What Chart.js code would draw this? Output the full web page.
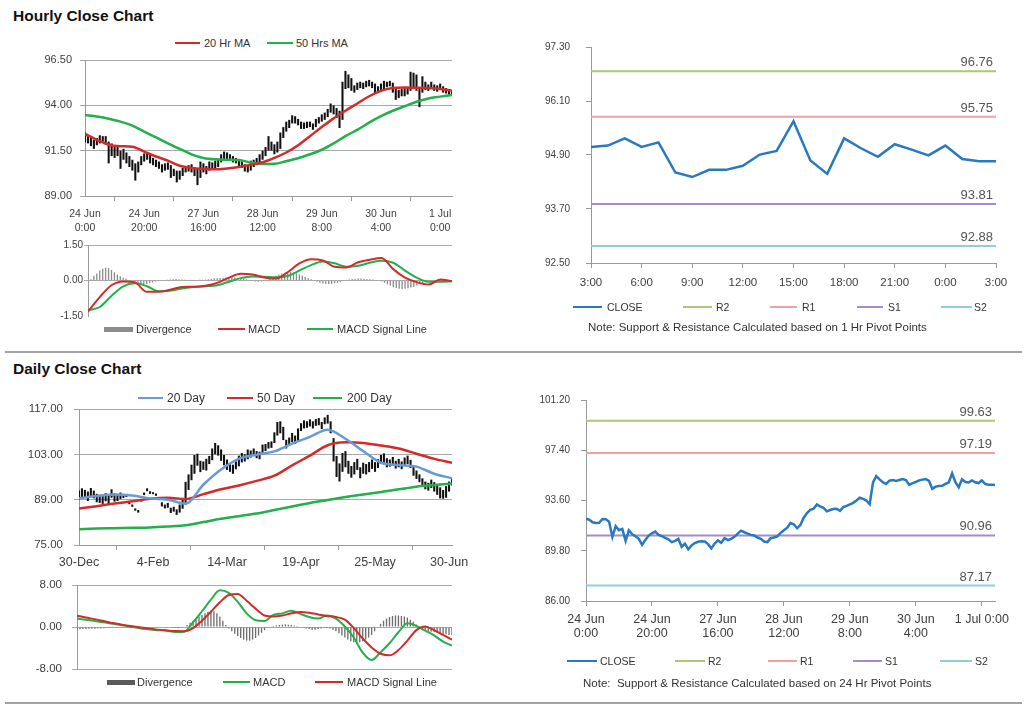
<!DOCTYPE html>
<html>
<head>
<meta charset="utf-8">
<script src="https://cdn.jsdelivr.net/npm/chart.js@4.4.0/dist/chart.umd.min.js"></script>
<style>
  body { margin: 0; background: #fff; font-family: "Liberation Sans", Arial, sans-serif; }
  #page { position: relative; width: 1024px; height: 706px; overflow: hidden; background: #fff; }
  canvas { position: absolute; }
  .title { position: absolute; left: 13px; font-weight: bold; font-size: 15.5px; color: #111; line-height: 18px; }
  .rule { position: absolute; left: 5px; width: 1017px; height: 2px; background: #a3a3a3; }
  .lg { position: absolute; height: 14px; line-height: 14px; color: #333; white-space: nowrap; }
  .lg i { position: absolute; left: 0; top: 6px; height: 2px; display: block; }
  .lg i.bar { top: 5px; height: 5px; }
  .lg span { position: absolute; top: 0; }
  .note { position: absolute; font-size: 11.5px; color: #333; white-space: pre; line-height: 14px; }
</style>
</head>
<body>
<div id="page">
  <div class="title" style="top:7px">Hourly Close Chart</div>
  <div class="title" style="top:360px">Daily Close Chart</div>
  <div class="rule" style="top:351px"></div>
  <div class="rule" style="top:702px"></div>

  <canvas id="hourPrice" width="440" height="186" style="left:20px;top:52px"></canvas>
  <canvas id="hourMacdChart" width="440" height="88" style="left:20px;top:237px"></canvas>
  <canvas id="hourPivot" width="490" height="256" style="left:520px;top:38px"></canvas>
  <canvas id="dayPrice" width="458" height="176" style="left:14px;top:399px"></canvas>
  <canvas id="dayMacdChart" width="446" height="102" style="left:14px;top:576px"></canvas>
  <canvas id="dayPivot" width="495" height="256" style="left:515px;top:391px"></canvas>

  <!-- legends -->
  <div class="lg" style="left:175px;top:36px;font-size:11px"><i style="width:25px;background:#d42a2a"></i><span style="left:29px">20 Hr MA</span></div>
  <div class="lg" style="left:267px;top:36px;font-size:11px"><i style="width:26px;background:#22b04a"></i><span style="left:29px">50 Hrs MA</span></div>

  <div class="lg" style="left:104px;top:322px;font-size:11px"><i class="bar" style="width:29px;background:#8c8c8c"></i><span style="left:32px">Divergence</span></div>
  <div class="lg" style="left:218px;top:322px;font-size:11px"><i style="width:27px;background:#d42a2a"></i><span style="left:30px">MACD</span></div>
  <div class="lg" style="left:307px;top:322px;font-size:11px"><i style="width:26px;background:#22b04a"></i><span style="left:30px">MACD Signal Line</span></div>

  <div class="lg" style="left:573px;top:300px;font-size:10.5px"><i style="width:29px;background:#2879c0"></i><span style="left:34px">CLOSE</span></div>
  <div class="lg" style="left:683px;top:300px;font-size:10.5px"><i style="width:29px;background:#a9c978"></i><span style="left:33px">R2</span></div>
  <div class="lg" style="left:770px;top:300px;font-size:10.5px"><i style="width:27px;background:#eba3a3"></i><span style="left:32px">R1</span></div>
  <div class="lg" style="left:857px;top:300px;font-size:10.5px"><i style="width:26px;background:#a48cc6"></i><span style="left:31px">S1</span></div>
  <div class="lg" style="left:941px;top:300px;font-size:10.5px"><i style="width:31px;background:#92cddc"></i><span style="left:33px">S2</span></div>
  <div class="note" style="left:588px;top:320px">Note: Support &amp; Resistance Calculated based on 1 Hr Pivot Points</div>

  <div class="lg" style="left:138px;top:391px;font-size:12px"><i style="width:25px;background:#6a9ad6"></i><span style="left:29px">20 Day</span></div>
  <div class="lg" style="left:227px;top:391px;font-size:12px"><i style="width:26px;background:#d42a2a"></i><span style="left:30px">50 Day</span></div>
  <div class="lg" style="left:313px;top:391px;font-size:12px"><i style="width:29px;background:#22b04a"></i><span style="left:34px">200 Day</span></div>

  <div class="lg" style="left:107px;top:675px;font-size:11px"><i class="bar" style="width:28px;background:#5a5a5a"></i><span style="left:30px">Divergence</span></div>
  <div class="lg" style="left:223px;top:675px;font-size:11px"><i style="width:27px;background:#22b04a"></i><span style="left:30px">MACD</span></div>
  <div class="lg" style="left:315px;top:675px;font-size:11px"><i style="width:28px;background:#d42a2a"></i><span style="left:32px">MACD Signal Line</span></div>

  <div class="lg" style="left:567px;top:654px;font-size:10.5px"><i style="width:30px;background:#2879c0"></i><span style="left:33px">CLOSE</span></div>
  <div class="lg" style="left:675px;top:654px;font-size:10.5px"><i style="width:30px;background:#a9c978"></i><span style="left:33px">R2</span></div>
  <div class="lg" style="left:768px;top:654px;font-size:10.5px"><i style="width:29px;background:#eba3a3"></i><span style="left:32px">R1</span></div>
  <div class="lg" style="left:853px;top:654px;font-size:10.5px"><i style="width:29px;background:#a48cc6"></i><span style="left:32px">S1</span></div>
  <div class="lg" style="left:940px;top:654px;font-size:10.5px"><i style="width:32px;background:#92cddc"></i><span style="left:35px">S2</span></div>
  <div class="note" style="left:583px;top:676px">Note:  Support &amp; Resistance Calculated based on 24 Hr Pivot Points</div>
</div>

<script>
// ---------- hourly bars, 24 Jun 0:00 .. 1 Jul 0:00 ----------
const hourTickIdx = [0, 20, 40, 60, 80, 100, 120];
const hourTickLabels = [['24 Jun', '0:00'], ['24 Jun', '20:00'], ['27 Jun', '16:00'], ['28 Jun', '12:00'],
                        ['29 Jun', '8:00'], ['30 Jun', '4:00'], ['1 Jul', '0:00']];
const hourTickLabelsB = [['24 Jun', '0:00'], ['24 Jun', '20:00'], ['27 Jun', '16:00'], ['28 Jun', '12:00'],
                         ['29 Jun', '8:00'], ['30 Jun', '4:00'], '1 Jul 0:00'];

const hourHigh = [92.5,92.35,92.2,92.1,92.2,92.35,92.3,92.3,92.0,91.9,
  91.7,91.75,91.5,91.6,91.4,91.2,91.0,90.8,90.9,91.2,
  91.35,91.4,91.3,91.1,91.0,90.9,90.75,90.8,90.85,90.7,
  90.5,90.4,90.4,90.55,90.65,90.7,90.75,90.6,90.5,90.9,
  90.8,90.65,90.9,90.85,90.95,91.05,91.3,91.45,91.4,91.3,
  91.2,91.1,91.0,90.9,90.75,90.7,90.95,91.0,91.1,91.3,
  91.5,91.7,92.3,92.0,91.85,92.0,92.5,92.8,93.1,93.2,
  93.45,93.4,93.25,93.1,93.05,93.1,93.1,93.0,93.25,93.35,
  93.5,93.6,93.8,94.1,94.0,93.85,93.7,95.3,95.9,95.7,
  95.5,95.1,95.25,95.3,95.25,95.35,95.4,95.3,95.2,95.05,
  95.2,95.35,95.3,95.35,95.25,95.0,94.85,94.9,94.95,95.0,
  95.85,95.8,95.7,95.0,95.6,95.3,95.15,95.3,95.15,95.1,
  95.2,95.05,94.95,94.9,94.85];
const hourLow = [91.95,91.9,91.75,91.6,91.8,91.9,92.0,91.85,90.8,91.2,
  91.1,91.2,90.5,91.0,90.8,90.6,90.4,89.85,90.3,90.7,
  90.9,91.0,90.8,90.7,90.6,90.5,90.3,90.4,90.45,90.0,
  90.1,89.75,89.9,90.1,90.3,90.35,90.3,90.1,89.6,90.0,
  90.3,90.2,90.4,90.45,90.5,90.6,90.85,91.0,91.0,90.95,
  90.85,90.8,90.65,90.55,90.35,90.3,90.4,90.6,90.7,90.8,
  91.0,91.2,91.5,91.5,91.3,91.4,91.6,92.2,92.55,92.75,
  93.0,93.0,92.9,92.7,92.7,92.75,92.8,92.65,92.8,93.0,
  93.1,93.2,93.35,93.6,93.5,93.3,92.75,93.2,94.9,94.95,
  94.8,94.7,94.85,94.95,94.9,95.0,95.05,94.95,94.65,94.7,
  94.85,94.9,95.0,95.05,94.7,94.3,94.4,94.5,94.5,94.6,
  94.8,95.0,94.8,93.9,94.7,94.85,94.8,94.9,94.8,94.75,
  94.85,94.7,94.65,94.6,94.6];
const hourClose = [92.22,92.15,91.95,91.9,91.92,92.2,92.18,92.0,90.85,91.66,
  91.35,91.45,90.55,91.35,91.05,90.9,90.7,90.25,90.62,90.95,
  91.12,91.25,91.0,90.9,90.78,90.66,90.45,90.55,90.7,90.1,
  90.33,89.9,90.2,90.38,90.48,90.52,90.5,90.3,89.98,90.35,
  90.58,90.4,90.75,90.6,90.7,90.85,91.1,91.32,91.2,91.1,
  91.0,90.95,90.8,90.7,90.5,90.45,90.75,90.8,90.88,91.15,
  91.35,91.55,91.9,91.8,91.5,91.75,92.3,92.65,92.9,92.98,
  93.3,93.15,93.05,92.78,92.88,92.95,92.98,92.82,93.1,93.2,
  93.3,93.42,93.6,93.82,93.72,93.6,93.32,94.95,95.45,95.2,
  94.98,94.85,95.1,95.15,95.08,95.15,95.22,95.14,94.78,94.92,
  95.0,95.12,95.18,95.22,95.08,94.48,94.65,94.7,94.72,94.85,
  94.98,95.65,94.98,94.6,95.2,95.0,94.96,95.12,94.98,94.92,
  95.12,94.85,94.8,94.8,94.78];

// moving averages and MACD read every 4th hour
const hourStep = 4;
const hourMa20 = [92.42,92.1,91.83,91.75,91.72,91.45,91.18,90.95,90.67,90.55,90.5,90.47,90.52,90.6,90.72,90.86,
  91.1,91.4,91.8,92.3,92.8,93.28,93.7,94.1,94.5,94.8,94.95,94.98,94.97,94.95,94.9,94.81];
const hourMa50 = [93.47,93.38,93.26,93.1,92.88,92.55,92.23,91.9,91.6,91.3,91.1,91.02,91.0,90.98,90.85,90.77,
  90.78,90.92,91.08,91.3,91.55,91.9,92.3,92.65,93.05,93.4,93.7,93.95,94.2,94.38,94.48,94.57];
const hourMacd = [-1.31,-0.7,-0.2,-0.04,-0.08,-0.48,-0.48,-0.39,-0.27,-0.26,-0.22,-0.1,0.12,0.28,0.25,0.13,
  0.08,0.35,0.72,0.9,0.85,0.58,0.55,0.77,0.88,0.95,0.48,0.12,-0.07,-0.17,0.04,-0.03];
const hourSignal = [-1.26,-1.12,-0.65,-0.25,-0.12,-0.24,-0.45,-0.43,-0.34,-0.28,-0.24,-0.2,-0.05,0.1,0.17,0.16,
  0.14,0.19,0.42,0.65,0.8,0.73,0.58,0.62,0.75,0.83,0.75,0.42,0.12,-0.05,-0.05,-0.03];
const hourDiv = [0,0.05,0.2,0.3,0.42,0.5,0.54,0.52,0.45,0.35,
  0.25,0.18,0.12,0.08,0.02,-0.03,-0.06,-0.1,-0.14,-0.15,
  -0.15,-0.12,-0.08,-0.05,-0.03,-0.02,0.02,0.03,0.04,0.05,
  0.06,0.05,0.04,0.03,0.02,0.01,0.01,0.02,0.03,0.03,
  0.04,0.05,0.07,0.09,0.1,0.11,0.12,0.13,0.14,0.14,
  0.13,0.12,0.1,0.08,0.05,0.02,-0.02,-0.04,-0.05,-0.04,
  -0.02,0.02,0.08,0.14,0.2,0.25,0.3,0.33,0.35,0.36,
  0.34,0.3,0.25,0.2,0.15,0.1,0.05,0.0,-0.05,-0.1,
  -0.13,-0.15,-0.15,-0.14,-0.12,-0.1,-0.06,-0.03,0.02,0.04,
  0.06,0.07,0.08,0.08,0.07,0.06,0.05,0.04,0.02,0.0,
  -0.04,-0.1,-0.16,-0.22,-0.28,-0.32,-0.35,-0.36,-0.35,-0.33,
  -0.3,-0.26,-0.21,-0.16,-0.12,-0.08,-0.05,-0.02,0.0,0.02,
  0.03,0.04,0.03,0.02,0.0];
const hourPriceTicks = [89, 91.5, 94, 96.5];
const hourMacdTicks = [-1.5, 0, 1.5];

// ---------- last 24 hours with 1 hr pivots ----------
const pivotHourTickIdx = [0, 3, 6, 9, 12, 15, 18, 21, 24];
const pivotHourLabels = ['3:00', '6:00', '9:00', '12:00', '15:00', '18:00', '21:00', '0:00', '3:00'];
const pivotHourClose = [95.08,95.11,95.27,95.08,95.18,94.51,94.41,94.57,94.57,94.66,94.91,94.99,95.65,
  94.78,94.48,95.27,95.05,94.86,95.14,95.02,94.89,95.11,94.81,94.76,94.76];
const pivotHourLevels = [96.76, 95.75, 93.81, 92.88];   // R2, R1, S1, S2
const pivotHourTicks = [92.5, 93.7, 94.9, 96.1, 97.3];

// ---------- daily bars, 30-Dec .. 30-Jun ----------
const dayTickIdx = [0, 25, 50, 75, 100, 125];
const dayTickLabels = ['30-Dec', '4-Feb', '14-Mar', '19-Apr', '25-May', '30-Jun'];
const dayHigh = [91.8,92.5,92.0,91.5,92.6,91.8,90.8,90.5,90.3,91.0,
  90.2,92.2,91.0,90.6,91.2,90.7,90.4,88.3,87.5,86.3,
  85.8,89.0,91.2,92.5,91.6,91.3,90.9,89.8,88.2,87.5,
  88.0,86.5,86.8,86.0,87.5,88.9,94.5,96.8,99.8,102.8,
  103.2,101.0,100.8,101.6,102.5,104.8,106.5,105.8,104.5,102.8,
  101.4,100.2,99.8,100.8,102.6,103.4,103.0,104.5,104.2,104.8,
  104.0,103.8,106.0,106.2,106.8,107.0,109.8,113.0,113.2,111.5,
  107.5,108.2,109.6,108.8,111.0,112.6,113.5,113.2,113.8,113.2,
  113.9,114.2,113.0,114.4,115.2,113.2,108.0,102.5,100.2,103.4,
  104.0,101.0,99.4,100.6,101.6,99.0,100.4,100.0,100.6,101.4,
  100.6,101.5,102.8,103.3,101.8,101.4,102.2,101.0,101.6,100.8,
  102.0,102.6,101.3,99.4,98.0,96.8,95.6,94.6,94.2,95.2,
  94.4,93.4,92.8,92.0,93.2,94.6,95.6];
const dayLow = [89.0,89.8,89.5,88.6,90.0,89.4,88.2,88.0,87.7,88.5,
  87.6,89.6,88.4,88.6,89.2,89.5,89.8,87.6,86.8,85.6,
  85.0,88.4,90.4,91.6,90.8,90.7,90.2,89.0,86.9,86.3,
  86.5,84.9,85.3,84.3,85.0,86.2,87.5,92.0,95.0,97.0,
  99.5,97.5,98.2,98.0,100.0,101.2,103.0,102.6,101.0,99.6,
  98.2,97.6,97.0,98.4,99.3,100.5,100.8,101.5,102.0,102.5,
  101.8,101.5,103.5,104.0,104.8,105.0,106.5,108.8,109.5,107.4,
  104.8,106.0,106.8,106.2,107.0,110.2,111.0,111.2,111.6,111.0,
  111.8,112.0,110.8,112.3,112.5,109.5,100.8,96.0,94.6,97.6,
  99.0,97.0,95.8,96.8,98.2,95.6,97.0,96.8,97.5,98.5,
  97.6,98.8,100.0,100.4,99.0,99.2,99.8,98.6,99.0,98.4,
  99.6,100.0,98.8,96.4,95.4,94.4,93.0,92.2,91.8,92.6,
  91.5,90.5,89.4,89.3,89.6,91.5,93.4];

// moving averages read every 6th day, MACD every 3rd day
const dayStep = 6;
const dayMa20 = [89.4,90.1,90.6,90.3,89.4,89.0,87.8,93.6,98.3,101.6,102.9,103.9,106.3,108.4,110.6,107.8,104.0,100.4,99.7,99.2,97.0,95.6];
const dayMa50 = [86.3,87.0,87.8,88.5,89.3,89.6,89.2,90.7,92.2,93.4,94.8,96.4,99.6,102.6,105.8,106.7,106.5,105.7,104.8,103.2,101.6,100.4];
const dayMa200 = [79.9,80.1,80.2,80.3,80.4,80.7,81.1,82.1,83.1,83.9,84.7,85.8,86.9,88.0,88.9,89.8,90.6,91.4,92.2,93.0,93.5,94.0];
const macdStep = 3;
const dayMacd = [1.6,1.4,1.15,0.9,0.6,0.35,0.05,-0.22,-0.42,-0.6,
  -0.68,-0.95,-0.9,0.9,3.0,5.2,7.0,6.5,4.8,2.6,
  1.3,1.15,2.3,2.6,3.1,2.5,1.9,1.6,2.2,1.6,
  0.1,-2.0,-4.9,-6.3,-4.8,-3.1,-1.0,0.7,0.2,-0.7,
  -1.6,-2.8,-3.55];
const daySignal = [2.16,1.8,1.5,1.15,0.75,0.45,0.18,-0.05,-0.3,-0.5,
  -0.65,-0.78,-0.8,-0.2,1.2,2.9,4.7,6.1,6.3,5.0,
  3.5,2.2,2.0,2.2,2.6,2.85,2.7,2.4,2.1,1.9,
  1.4,-0.2,-2.2,-3.9,-5.1,-5.4,-4.4,-2.6,-0.6,0.1,
  -0.6,-1.5,-2.4];
const dayDiv = [-0.5,-0.45,-0.4,-0.4,-0.35,-0.35,-0.35,-0.3,-0.3,-0.25,
  -0.2,-0.2,-0.15,-0.15,-0.1,-0.1,-0.1,-0.1,-0.15,-0.2,
  -0.2,-0.2,-0.15,-0.15,-0.12,-0.1,-0.1,-0.12,-0.1,-0.08,
  -0.05,-0.1,-0.15,-0.2,-0.25,-0.2,-0.1,0.4,0.8,1.2,
  1.6,2.0,2.3,2.6,2.9,3.1,3.0,2.6,2.0,1.2,
  0.4,-0.3,-0.8,-1.3,-1.7,-2.1,-2.4,-2.6,-2.6,-2.4,
  -2.1,-1.6,-1.1,-0.6,-0.2,0.1,0.2,0.3,0.4,0.45,
  0.5,0.45,0.4,0.3,0.2,0.1,-0.1,-0.3,-0.4,-0.5,
  -0.5,-0.4,-0.3,-0.2,-0.2,-0.3,-0.5,-0.8,-1.2,-1.6,
  -2.0,-2.4,-2.7,-2.9,-3.0,-2.9,-2.7,-2.4,-2.0,-1.5,
  -0.8,0.0,0.6,1.2,1.6,1.9,2.1,2.2,2.2,2.1,
  2.0,1.8,1.4,1.0,0.5,0.0,-0.4,-0.6,-0.8,-0.9,
  -1.0,-1.1,-1.2,-1.3,-1.4,-1.5,-1.5];
const dayPriceTicks = [75, 89, 103, 117];
const dayMacdTicks = [-8, 0, 8];

// ---------- 24 hr pivots over the hourly closes ----------
const pivotDayLevels = [99.63, 97.19, 90.96, 87.17];   // R2, R1, S1, S2
const pivotDayTicks = [86, 89.8, 93.6, 97.4, 101.2];

// ---------- styling ----------
const RED = '#d42a2a', GREEN = '#22b04a', BLUE = '#6a9ad6', CLOSE = '#2879c0';
const levelColors = ['#a9c978', '#eba3a3', '#a48cc6', '#92cddc'];
const AXIS = '#9a9a9a', GRID = '#a8a8a8';

Chart.defaults.font.family = "'Liberation Sans', Arial, sans-serif";
Chart.defaults.font.size = 11;
Chart.defaults.color = '#404040';
Chart.defaults.animation = false;
Chart.defaults.responsive = false;
Chart.defaults.plugins.legend.display = false;
Chart.defaults.plugins.tooltip.enabled = false;
Chart.defaults.elements.point.radius = 0;

function xy(vals, step) { return vals.map((v, i) => ({x: i * step, y: v})); }
function hiLo(lo, hi) { return lo.map((v, i) => ({x: i, y: [v, hi[i]]})); }
function flat(v, xMax) { return [{x: 0, y: v}, {x: xMax, y: v}]; }

// fixed axis sizes so the plot areas land where the reference has them
function xAxis(max, tickIdx, labels, o) {
  return {
    type: 'linear', min: 0, max: max, offset: false, display: o.display !== false,
    afterBuildTicks: s => { s.ticks = tickIdx.map(v => ({value: v})); },
    afterFit: s => { s.height = o.height || 0; s.paddingLeft = 0; s.paddingRight = 0; },
    ticks: {callback: (v, i) => labels ? labels[i] : '', autoSkip: false, maxRotation: 0,
            padding: o.pad || 0, font: {size: o.size || 11, lineHeight: o.lh || 1.2}},
    grid: {drawOnChartArea: false, tickLength: 5, color: AXIS},
    border: {color: AXIS}
  };
}

function yAxis(ticks, o) {
  return {
    min: ticks[0], max: ticks[ticks.length - 1],
    afterBuildTicks: s => { s.ticks = ticks.map(v => ({value: v})); },
    afterFit: s => { s.width = o.width; s.paddingTop = 0; s.paddingBottom = 0; },
    ticks: {callback: v => v.toFixed(2), padding: o.pad, font: {size: o.size}},
    grid: {drawOnChartArea: o.onArea !== false, color: o.color || GRID, tickLength: o.tl || 5},
    border: {color: AXIS}
  };
}

function line(data, color, width, order) {
  return {type: 'line', data: data, borderColor: color, borderWidth: width,
          cubicInterpolationMode: 'monotone', order: order};
}

// value labels above each pivot level
const levelText = {
  id: 'levelText',
  afterDatasetsDraw(chart) {
    const ctx = chart.ctx, area = chart.chartArea, y = chart.scales.y;
    ctx.save();
    ctx.font = "13px 'Liberation Sans', Arial, sans-serif";
    ctx.fillStyle = '#555';
    ctx.textAlign = 'right';
    ctx.textBaseline = 'alphabetic';
    chart.data.datasets.forEach(ds => {
      if (ds.level === undefined) return;
      ctx.fillText(ds.level.toFixed(2), area.right - 3, y.getPixelForValue(ds.level) - 5);
    });
    ctx.restore();
  }
};

// hourly price with MAs
new Chart(document.getElementById('hourPrice'), {
  type: 'bar',
  data: {datasets: [
    line(xy(hourMa20, hourStep), RED, 2.5, 1),
    line(xy(hourMa50, hourStep), GREEN, 2.5, 2),
    {type: 'bar', data: hiLo(hourLow, hourHigh), backgroundColor: '#111',
     barPercentage: 0.7, categoryPercentage: 1, order: 5}
  ]},
  options: {
    layout: {padding: {top: 8, right: 8, left: 0, bottom: 0}},
    scales: {
      x: xAxis(124, hourTickIdx, hourTickLabels, {height: 42, pad: 6, size: 10.5, lh: 1.33}),
      y: yAxis(hourPriceTicks, {width: 65, pad: 8, size: 11})
    }
  }
});

// hourly MACD
new Chart(document.getElementById('hourMacdChart'), {
  type: 'bar',
  data: {datasets: [
    line(xy(hourMacd, hourStep), RED, 2, 1),
    line(xy(hourSignal, hourStep), GREEN, 2, 2),
    {type: 'bar', data: xy(hourDiv, 1), backgroundColor: '#8c8c8c',
     barPercentage: 0.45, categoryPercentage: 1, order: 5}
  ]},
  options: {
    layout: {padding: {top: 8, right: 8, left: 0, bottom: 9}},
    scales: {
      x: xAxis(124, hourTickIdx, null, {display: false}),
      y: Object.assign(yAxis(hourMacdTicks, {width: 68, pad: 1, size: 10, tl: 4}), {
        grid: {color: c => (c.tick && c.tick.value === -1.5) ? 'rgba(0,0,0,0)' : GRID, tickLength: 4}
      })
    }
  }
});

// last 24 hourly closes with 1 hr pivot levels
new Chart(document.getElementById('hourPivot'), {
  type: 'line',
  data: {datasets: [
    {data: xy(pivotHourClose, 1), borderColor: CLOSE, borderWidth: 2.5, tension: 0, order: 0},
    ...pivotHourLevels.map((v, k) => ({data: flat(v, 24), level: v, borderColor: levelColors[k],
                                      borderWidth: 2, order: 1}))
  ]},
  options: {
    layout: {padding: {top: 9, right: 14, left: 0, bottom: 0}},
    scales: {
      x: xAxis(24, pivotHourTickIdx, pivotHourLabels, {height: 31, pad: 8, size: 11.5}),
      y: yAxis(pivotHourTicks, {width: 71, pad: 16, size: 10, onArea: false, color: AXIS})
    }
  },
  plugins: [levelText]
});

// daily price with MAs
new Chart(document.getElementById('dayPrice'), {
  type: 'bar',
  data: {datasets: [
    line(xy(dayMa20, dayStep), BLUE, 2.5, 1),
    line(xy(dayMa50, dayStep), RED, 2.5, 2),
    line(xy(dayMa200, dayStep), GREEN, 2.5, 3),
    {type: 'bar', data: hiLo(dayLow, dayHigh), backgroundColor: '#111',
     barPercentage: 0.7, categoryPercentage: 1, order: 5}
  ]},
  options: {
    layout: {padding: {top: 10, right: 20, left: 0, bottom: 0}},
    scales: {
      x: xAxis(126, dayTickIdx, dayTickLabels, {height: 30, pad: 5, size: 12.5}),
      y: yAxis(dayPriceTicks, {width: 65, pad: 11, size: 11.5})
    }
  }
});

// daily MACD
new Chart(document.getElementById('dayMacdChart'), {
  type: 'bar',
  data: {datasets: [
    line(xy(dayMacd, macdStep), GREEN, 2, 2),
    line(xy(daySignal, macdStep), RED, 2, 1),
    {type: 'bar', data: xy(dayDiv, 1), backgroundColor: '#6e6e6e',
     barPercentage: 0.45, categoryPercentage: 1, order: 5}
  ]},
  options: {
    layout: {padding: {top: 9, right: 8, left: 0, bottom: 9}},
    scales: {
      x: xAxis(126, dayTickIdx, null, {display: false}),
      y: yAxis(dayMacdTicks, {width: 63, pad: 10, size: 11.5})
    }
  }
});

// hourly closes with 24 hr pivot levels
new Chart(document.getElementById('dayPivot'), {
  type: 'line',
  data: {datasets: [
    {data: xy(hourClose, 1), borderColor: CLOSE, borderWidth: 2.5, tension: 0, order: 0},
    ...pivotDayLevels.map((v, k) => ({data: flat(v, 124), level: v, borderColor: levelColors[k],
                                     borderWidth: 2, order: 1}))
  ]},
  options: {
    layout: {padding: {top: 9, right: 15, left: 0, bottom: 0}},
    scales: {
      x: xAxis(124, hourTickIdx, hourTickLabelsB, {height: 46, pad: 7, size: 12.5, lh: 1.12}),
      y: yAxis(pivotDayTicks, {width: 71, pad: 11, size: 10, onArea: false, color: AXIS})
    }
  },
  plugins: [levelText]
});
</script>
</body>
</html>
